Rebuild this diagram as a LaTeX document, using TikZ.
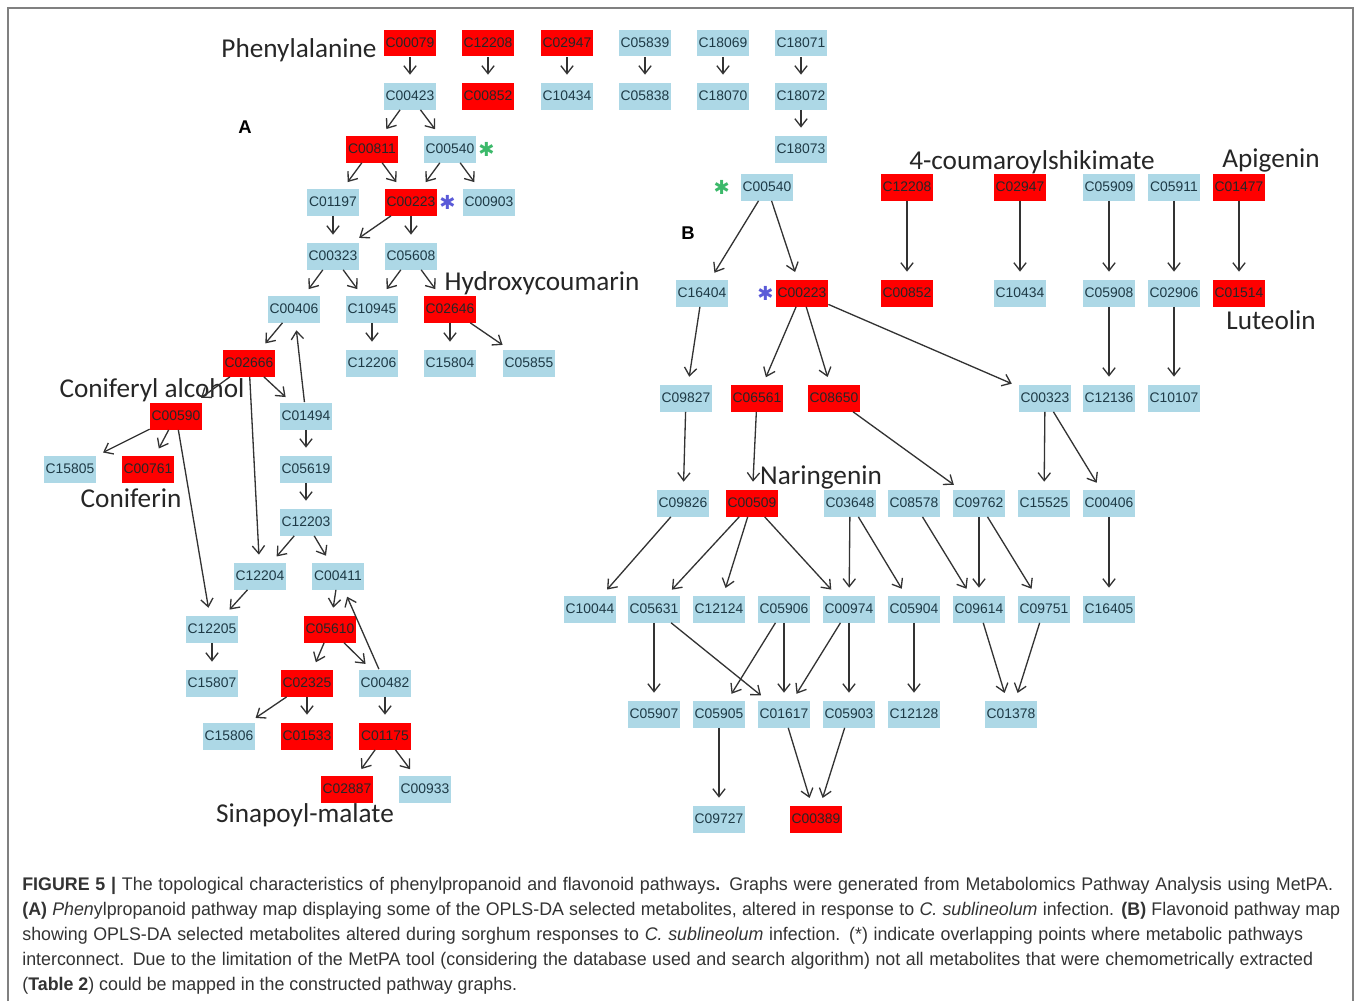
\documentclass[tikz,border=0pt]{standalone}
\usepackage{fontspec}
\setmainfont{Liberation Sans}
\newfontfamily\pathfont{Carlito}
\newfontfamily\capfont[FakeStretch=0.975]{Liberation Sans}
\newfontfamily\symfont{DejaVu Sans}
\usetikzlibrary{arrows.meta}
\usetikzlibrary{positioning}
\definecolor{metblue}{HTML}{ADD8E6}
\definecolor{metred}{HTML}{FF0000}
\definecolor{metink}{HTML}{1E3A46}
\definecolor{overlapgreen}{HTML}{3CB96A}
\definecolor{overlapblue}{HTML}{5A5AD8}
\tikzset{
    met/.style={fill=metblue, text=metink, minimum width=1.04cm, minimum height=0.54cm, inner sep=0pt, font=\fontsize{7.9}{8}\selectfont},
    hit/.style={met, fill=metred, text=black!85},
    link/.style={draw=black!80, line width=0.75pt, -{Straight Barb[length=4.5pt,width=7pt]}, shorten >=0.15cm},
    cpdlabel/.style={inner sep=0pt, text=black!85, font=\pathfont\fontsize{15.5}{16}\selectfont},
    panel/.style={inner sep=0pt, font=\bfseries\fontsize{10.5}{11}\selectfont},
    overlap/.style={inner sep=0pt, font=\symfont\fontsize{11}{11}\selectfont},
    capline/.style={anchor=base west, inner sep=0pt, text=black!80, font=\capfont\fontsize{10.4}{11}\selectfont}
}
\begin{document}
\begin{tikzpicture}[x=0.02cm, y=-0.02cm]
    \useasboundingbox (0,0) rectangle (1358,1001);
    \draw [gray, line width=1pt] (8,1001) -- (8,8) -- (1353,8) -- (1353,1001);

    \foreach \n/\x/\s in {00079/410/hit, 12208/488/hit, 02947/567/hit, 05839/645/met, 18069/723/met, 18071/801/met}
        \node [\s] (a\n) at (\x,43) {C\n};
    \foreach \n/\x/\s in {00423/410/met, 00852/488/hit, 10434/567/met, 05838/645/met, 18070/723/met, 18072/801/met}
        \node [\s] (a\n) at (\x,96) {C\n};
    \foreach \n/\x/\s in {00811/372/hit, 00540/450/met, 18073/801/met}
        \node [\s] (a\n) at (\x,149) {C\n};
    \foreach \n/\x/\s in {01197/333/met, 00223/411/hit, 00903/489/met}
        \node [\s] (a\n) at (\x,202) {C\n};
    \foreach \n/\x/\s in {00323/333/met, 05608/411/met}
        \node [\s] (a\n) at (\x,256) {C\n};
    \foreach \n/\x/\s in {00406/294/met, 10945/372/met, 02646/450/hit}
        \node [\s] (a\n) at (\x,309) {C\n};
    \foreach \n/\x/\s in {02666/249/hit, 12206/372/met, 15804/450/met, 05855/529/met}
        \node [\s] (a\n) at (\x,363) {C\n};
    \foreach \n/\x/\s in {00590/176/hit, 01494/306/met}
        \node [\s] (a\n) at (\x,416) {C\n};
    \foreach \n/\x/\s in {15805/70/met, 00761/148/hit, 05619/306/met}
        \node [\s] (a\n) at (\x,469) {C\n};
    \node [met] (a12203) at (306,522) {C12203};
    \foreach \n/\x/\s in {12204/260/met, 00411/338/met}
        \node [\s] (a\n) at (\x,576) {C\n};
    \foreach \n/\x/\s in {12205/212/met, 05610/330/hit}
        \node [\s] (a\n) at (\x,629) {C\n};
    \foreach \n/\x/\s in {15807/212/met, 02325/307/hit, 00482/385/met}
        \node [\s] (a\n) at (\x,683) {C\n};
    \foreach \n/\x/\s in {15806/229/met, 01533/307/hit, 01175/385/hit}
        \node [\s] (a\n) at (\x,736) {C\n};
    \foreach \n/\x/\s in {02887/347/hit, 00933/425/met}
        \node [\s] (a\n) at (\x,789) {C\n};

    \node [overlap, text=overlapgreen, right=1pt of a00540] (astarg) {✱};
    \node [overlap, text=overlapblue, right=1pt of a00223] (astarb) {✱};
    \node [panel] (apanel) at (245,127) {A};
    \node [cpdlabel] (phe) at (299,50) {Phenylalanine};
    \node [cpdlabel] (hyd) at (542,283) {Hydroxycoumarin};
    \node [cpdlabel] (con) at (152,390) {Coniferyl alcohol};
    \node [cpdlabel] (cfn) at (131,498) {Coniferin};
    \node [cpdlabel] (sin) at (305,815) {Sinapoyl-malate};

    \foreach \u/\v in {00079/00423, 12208/00852, 02947/10434, 05839/05838, 18069/18070, 18071/18072, 18072/18073,
        00423/00811, 00423/00540, 00811/01197, 00811/00223, 00540/00223, 00540/00903,
        01197/00323, 00223/00323, 00223/05608, 00323/00406, 00323/10945, 05608/10945, 05608/02646,
        00406/02666, 01494/00406, 10945/12206, 02646/15804, 02646/05855,
        02666/00590, 02666/01494, 02666/12204, 00590/15805, 00590/00761, 00590/12205,
        01494/05619, 05619/12203, 12203/12204, 12203/00411, 12204/12205, 12205/15807,
        00411/05610, 00482/00411, 05610/02325, 05610/00482, 02325/15806, 02325/01533,
        00482/01175, 01175/02887, 01175/00933}
        \draw [link] (a\u) -- (a\v);

    \foreach \n/\x/\s in {00540/767/met, 12208/907/hit, 02947/1020/hit, 05909/1109/met, 05911/1174/met, 01477/1239/hit}
        \node [\s] (b\n) at (\x,187) {C\n};
    \foreach \n/\x/\s in {16404/702/met, 00223/802/hit, 00852/907/hit, 10434/1020/met, 05908/1109/met, 02906/1174/met, 01514/1239/hit}
        \node [\s] (b\n) at (\x,293) {C\n};
    \foreach \n/\x/\s in {09827/686/met, 06561/757/hit, 08650/834/hit, 00323/1045/met, 12136/1109/met, 10107/1174/met}
        \node [\s] (b\n) at (\x,398) {C\n};
    \foreach \n/\x/\s in {09826/683/met, 00509/752/hit, 03648/850/met, 08578/914/met, 09762/979/met, 15525/1044/met, 00406/1109/met}
        \node [\s] (b\n) at (\x,503) {C\n};
    \foreach \n/\x in {10044/590, 05631/654, 12124/719, 05906/784, 00974/849, 05904/914, 09614/979, 09751/1044, 16405/1109}
        \node [met] (b\n) at (\x,609) {C\n};
    \foreach \n/\x in {05907/654, 05905/719, 01617/784, 05903/849, 12128/914, 01378/1011}
        \node [met] (b\n) at (\x,714) {C\n};
    \node [met] (b09727) at (719,819) {C09727};
    \node [hit] (b00389) at (816,819) {C00389};

    \node [overlap, text=overlapgreen, left=6pt of b00540] (bstarg) {✱};
    \node [overlap, text=overlapblue, left=1pt of b00223] (bstarb) {✱};
    \node [panel] (bpanel) at (688,233) {B};
    \node [cpdlabel] (cou) at (1032,162) {4-coumaroylshikimate};
    \node [cpdlabel] (api) at (1271,160) {Apigenin};
    \node [cpdlabel] (lut) at (1271,320) {Luteolin};
    \node [cpdlabel] (nar) at (821,477) {Naringenin};

    \foreach \u/\v in {00540/16404, 00540/00223, 12208/00852, 02947/10434, 05909/05908, 05911/02906, 01477/01514,
        05908/12136, 02906/10107, 16404/09827, 00223/06561, 00223/08650, 00223/00323,
        09827/09826, 06561/00509, 08650/09762, 00323/15525, 00323/00406,
        09826/10044, 00509/05631, 00509/12124, 00509/00974, 03648/00974, 03648/05904,
        08578/09614, 09762/09614, 09762/09751, 00406/16405,
        05631/05907, 05631/01617, 05906/05905, 05906/01617, 00974/01617, 00974/05903,
        05904/12128, 09614/01378, 09751/01378, 05905/09727, 01617/00389, 05903/00389}
        \draw [link] (b\u) -- (b\v);

    \node [capline] (cap1) at (22,890) {\hbox to 26.22cm{\textbf{FIGURE 5 |} The topological characteristics of phenylpropanoid and flavonoid pathways\textbf{.} Graphs were generated from Metabolomics Pathway Analysis using MetPA.}};
    \node [capline] (cap2) at (22,915) {\hbox to 26.36cm{\textbf{(A)} \textit{Phen}ylpropanoid pathway map displaying some of the OPLS-DA selected metabolites, altered in response to \textit{C. sublineolum} infection. \textbf{(B)} Flavonoid pathway map}};
    \node [capline] (cap3) at (22,940) {\hbox to 25.62cm{showing OPLS-DA selected metabolites altered during sorghum responses to \textit{C. sublineolum} infection. (*) indicate overlapping points where metabolic pathways}};
    \node [capline] (cap4) at (22,965) {\hbox to 25.82cm{interconnect. Due to the limitation of the MetPA tool (considering the database used and search algorithm) not all metabolites that were chemometrically extracted}};
    \node [capline] (cap5) at (22,990) {(\textbf{Table 2}) could be mapped in the constructed pathway graphs.};
\end{tikzpicture}
\end{document}
